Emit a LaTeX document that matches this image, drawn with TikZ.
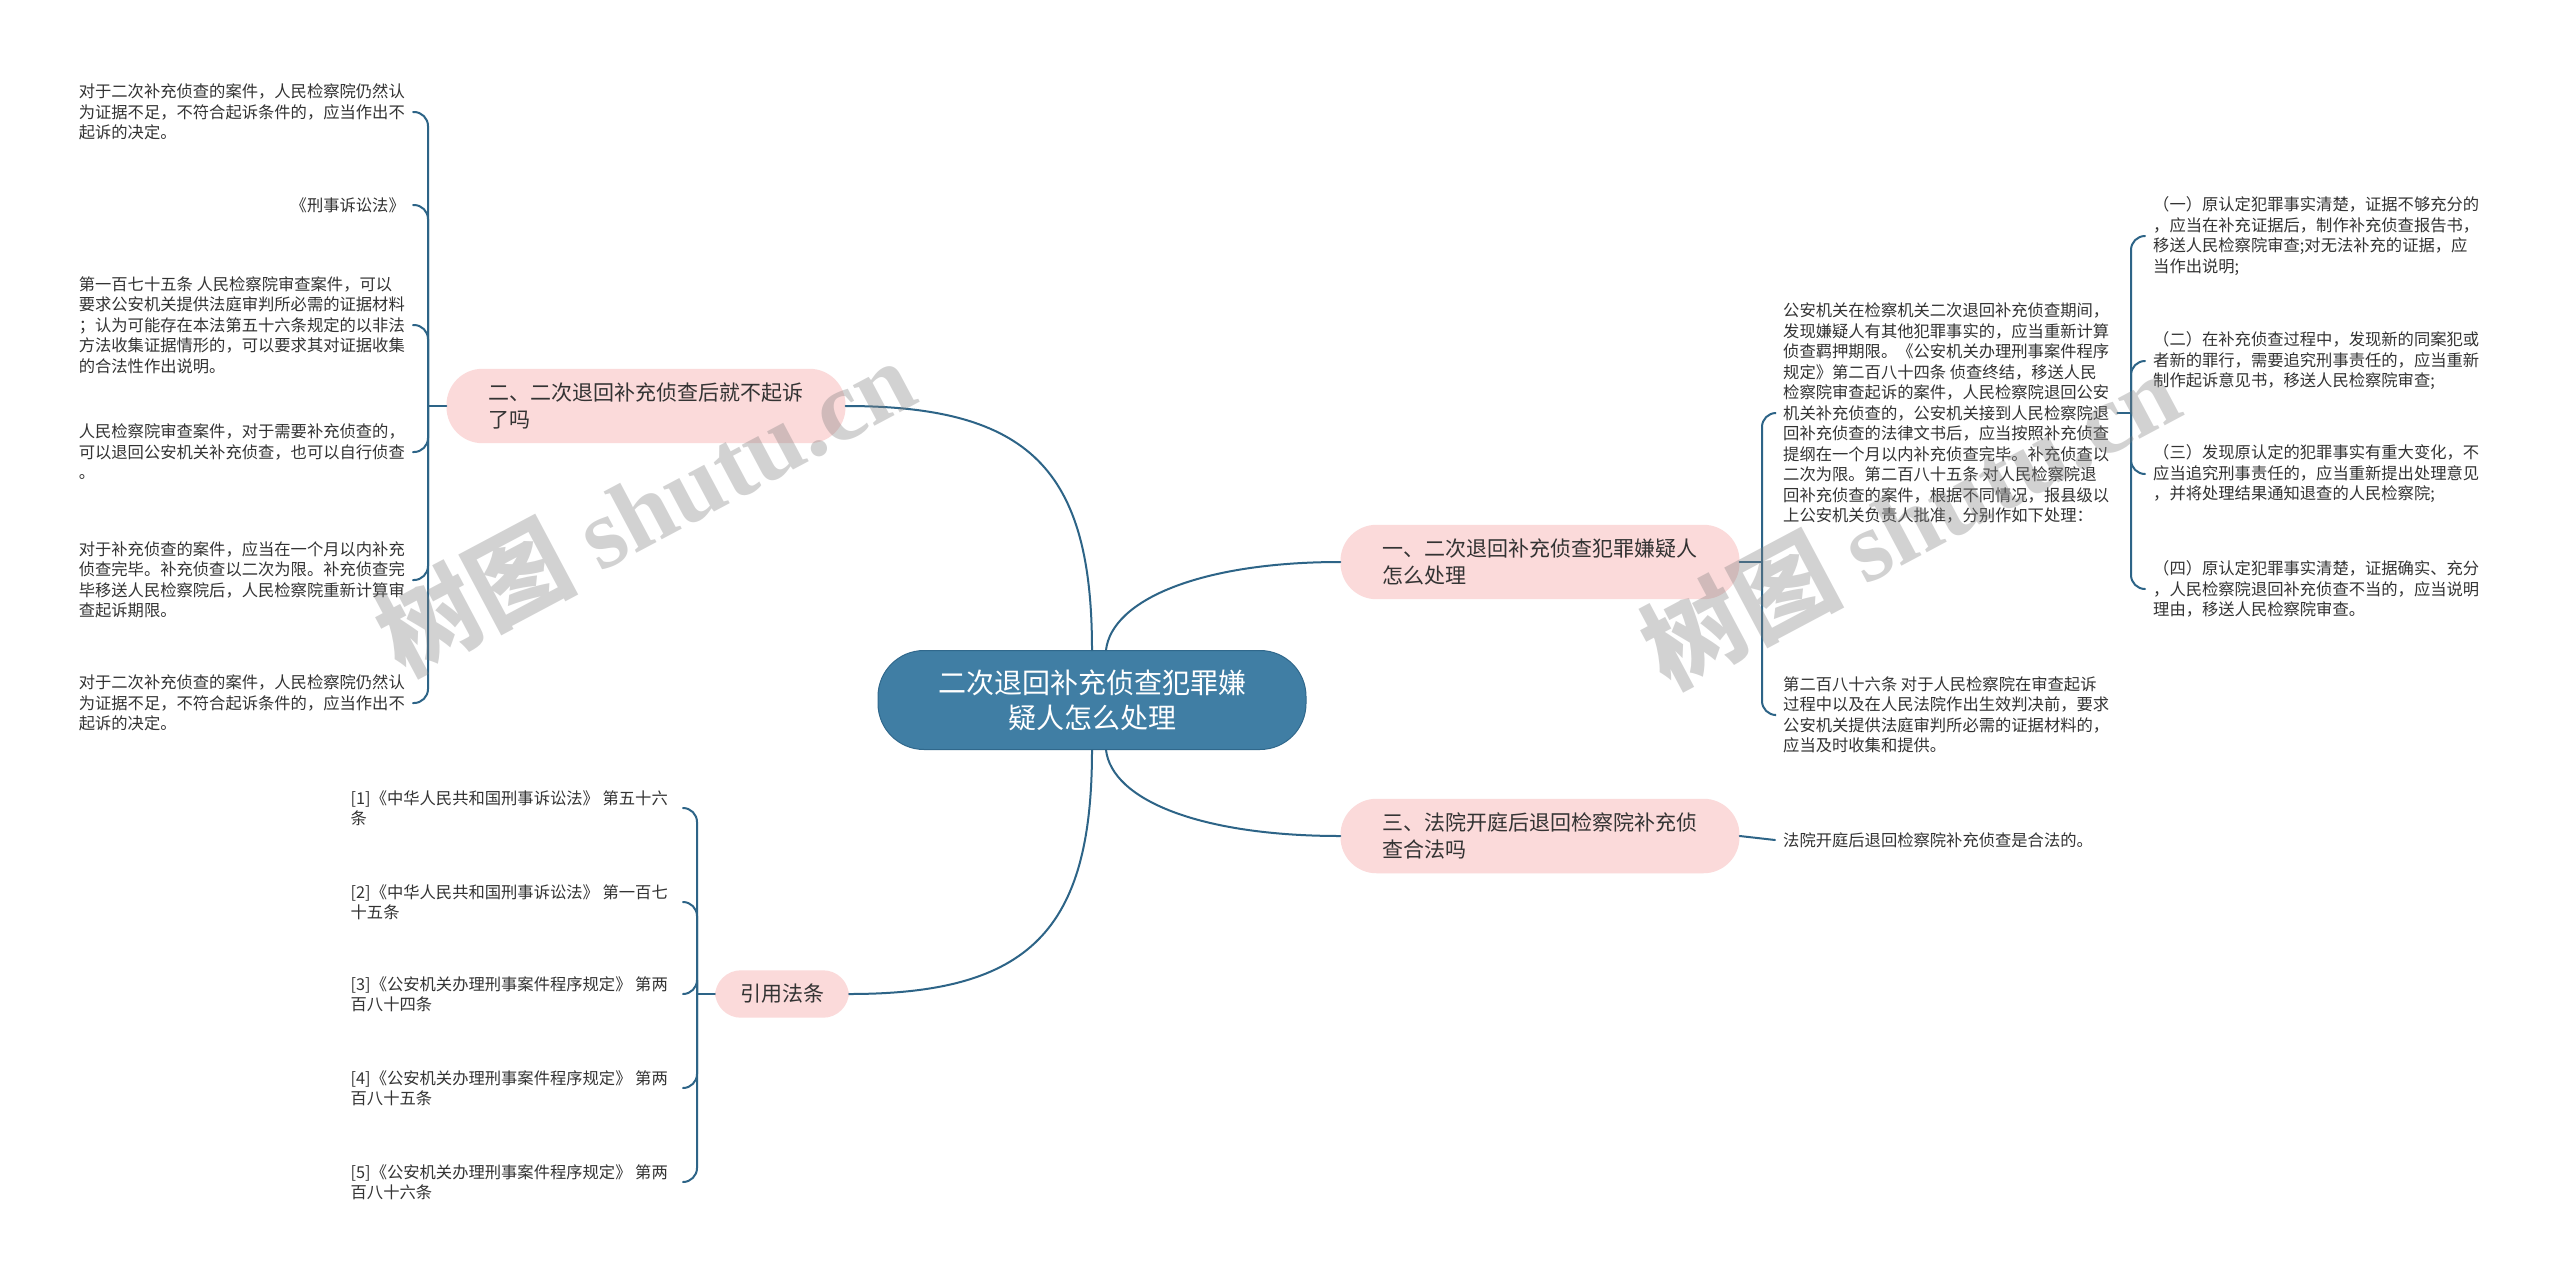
\documentclass[tikz,border=0pt]{standalone}
\usepackage{fontspec}
\setmainfont{Noto Sans CJK SC}
\newfontfamily\wmfont{Liberation Serif}
\usetikzlibrary{positioning}
\definecolor{MapBlue}{RGB}{64,126,164}
\definecolor{MapEdge}{RGB}{48,104,140}
\definecolor{MapLine}{RGB}{45,100,135}
\definecolor{MapPink}{RGB}{251,218,218}
\definecolor{MapText}{RGB}{51,51,51}

\begin{document}
\begin{tikzpicture}[x=1pt, y=-1pt,
    every node/.style={text=MapText},
    root/.style={fill=MapBlue, draw=MapEdge, line width=1pt, rounded corners=46pt,
      align=center, text=white, inner xsep=60pt, inner ysep=19pt,
      font=\fontsize{28}{35}\selectfont},
    topic/.style={fill=MapPink, rounded corners=36pt, align=left,
      inner xsep=42pt, inner ysep=14pt, font=\fontsize{21}{27}\selectfont},
    leaf/.style={align=left, inner xsep=8pt, inner ysep=2pt,
      font=\fontsize{16.3}{20.5}\selectfont},
    link/.style={draw=MapLine, line width=2pt, line cap=round},
    fork/.style={link, rounded corners=14pt}]
  \path[use as bounding box, fill=white] (0,0) rectangle (2560,1280);

  % centre and main topics
  \node[root] (ctr) at (1092,700) {二次退回补充侦查犯罪嫌\\疑人怎么处理};
  \node[topic] (t2) at (646,406) {二、二次退回补充侦查后就不起诉\\了吗};
  \node[topic] (t1) at (1540,562) {一、二次退回补充侦查犯罪嫌疑人\\怎么处理};
  \node[topic] (t3) at (1540,836) {三、法院开庭后退回检察院补充侦\\查合法吗};
  \node[topic, inner xsep=25pt, rounded corners=26pt] (t4) at (782,994) {引用法条};

  \draw[link] (ctr.north) .. controls (1092,470) and (1030,406) .. (t2.east);
  \draw[link] ([xshift=14pt]ctr.north) .. controls (1112,600) and (1200,562) .. (t1.west);
  \draw[link] ([xshift=14pt]ctr.south) .. controls (1112,800) and (1200,836) .. (t3.west);
  \draw[link] (ctr.south) .. controls (1092,930) and (1030,994) .. (t4.east);

  \coordinate (f2) at (428,406);
  \coordinate (f1) at (1762,562);
  \coordinate (f11) at (2131,413);
  \coordinate (f4) at (697,994);

  % left: 二
  \node[leaf, anchor=east] (l1) at (413,112) {对于二次补充侦查的案件，人民检察院仍然认\\为证据不足，不符合起诉条件的，应当作出不\\起诉的决定。};
  \node[leaf, anchor=east] (l2) at (413,205) {《刑事诉讼法》};
  \node[leaf, anchor=east] (l3) at (413,325) {第一百七十五条 人民检察院审查案件，可以\\要求公安机关提供法庭审判所必需的证据材料\\；认为可能存在本法第五十六条规定的以非法\\方法收集证据情形的，可以要求其对证据收集\\的合法性作出说明。};
  \node[leaf, anchor=east] (l4) at (413,452) {人民检察院审查案件，对于需要补充侦查的，\\可以退回公安机关补充侦查，也可以自行侦查\\。};
  \node[leaf, anchor=east] (l5) at (413,580) {对于补充侦查的案件，应当在一个月以内补充\\侦查完毕。补充侦查以二次为限。补充侦查完\\毕移送人民检察院后，人民检察院重新计算审\\查起诉期限。};
  \node[leaf, anchor=east] (l6) at (413,703) {对于二次补充侦查的案件，人民检察院仍然认\\为证据不足，不符合起诉条件的，应当作出不\\起诉的决定。};
  \draw[link] (t2.west) -- (f2);
  \foreach \n in {l1,l2,l3,l4,l5,l6}
    \draw[fork] (f2) |- (\n.east);

  % right: 一
  \node[leaf, anchor=west] (r1) at (1775,413) {公安机关在检察机关二次退回补充侦查期间，\\发现嫌疑人有其他犯罪事实的，应当重新计算\\侦查羁押期限。《公安机关办理刑事案件程序\\规定》第二百八十四条 侦查终结，移送人民\\检察院审查起诉的案件，人民检察院退回公安\\机关补充侦查的，公安机关接到人民检察院退\\回补充侦查的法律文书后，应当按照补充侦查\\提纲在一个月以内补充侦查完毕。补充侦查以\\二次为限。第二百八十五条 对人民检察院退\\回补充侦查的案件，根据不同情况，报县级以\\上公安机关负责人批准，分别作如下处理：};
  \node[leaf, anchor=west] (r2) at (1775,715) {第二百八十六条 对于人民检察院在审查起诉\\过程中以及在人民法院作出生效判决前，要求\\公安机关提供法庭审判所必需的证据材料的，\\应当及时收集和提供。};
  \draw[link] (t1.east) -- (f1);
  \foreach \n in {r1,r2}
    \draw[fork] (f1) |- (\n.west);

  \node[leaf, anchor=west] (c1) at (2145,236) {（一）原认定犯罪事实清楚，证据不够充分的\\，应当在补充证据后，制作补充侦查报告书，\\移送人民检察院审查;对无法补充的证据，应\\当作出说明;};
  \node[leaf, anchor=west] (c2) at (2145,361) {（二）在补充侦查过程中，发现新的同案犯或\\者新的罪行，需要追究刑事责任的，应当重新\\制作起诉意见书，移送人民检察院审查;};
  \node[leaf, anchor=west] (c3) at (2145,474) {（三）发现原认定的犯罪事实有重大变化，不\\应当追究刑事责任的，应当重新提出处理意见\\，并将处理结果通知退查的人民检察院;};
  \node[leaf, anchor=west] (c4) at (2145,589) {（四）原认定犯罪事实清楚，证据确实、充分\\，人民检察院退回补充侦查不当的，应当说明\\理由，移送人民检察院审查。};
  \draw[link] (r1.east) -- (f11);
  \foreach \n in {c1,c2,c3,c4}
    \draw[fork] (f11) |- (\n.west);

  % right: 三
  \node[leaf, anchor=west] (r3) at (1775,840) {法院开庭后退回检察院补充侦查是合法的。};
  \draw[link] (t3.east) -- (r3.west);

  % left: 引用法条
  \node[leaf, anchor=east, inner xsep=15pt] (s1) at (683,808) {[1]《中华人民共和国刑事诉讼法》 第五十六\\条};
  \node[leaf, anchor=east, inner xsep=15pt] (s2) at (683,902) {[2]《中华人民共和国刑事诉讼法》 第一百七\\十五条};
  \node[leaf, anchor=east, inner xsep=15pt] (s3) at (683,994) {[3]《公安机关办理刑事案件程序规定》 第两\\百八十四条};
  \node[leaf, anchor=east, inner xsep=15pt] (s4) at (683,1088) {[4]《公安机关办理刑事案件程序规定》 第两\\百八十五条};
  \node[leaf, anchor=east, inner xsep=15pt] (s5) at (683,1182) {[5]《公安机关办理刑事案件程序规定》 第两\\百八十六条};
  \draw[link] (t4.west) -- (f4);
  \foreach \n in {s1,s2,s3,s4,s5}
    \draw[fork] (f4) |- (\n.east);

  % watermarks
  \node[rotate=28, text=gray, opacity=0.35, font=\fontsize{100}{100}\selectfont\bfseries] (wm1) at (645,506) {树图 {\wmfont shutu.cn}};
  \node[rotate=28, text=gray, opacity=0.35, font=\fontsize{100}{100}\selectfont\bfseries] (wm2) at (1910,519) {树图 {\wmfont shutu.cn}};
\end{tikzpicture}
\end{document}
